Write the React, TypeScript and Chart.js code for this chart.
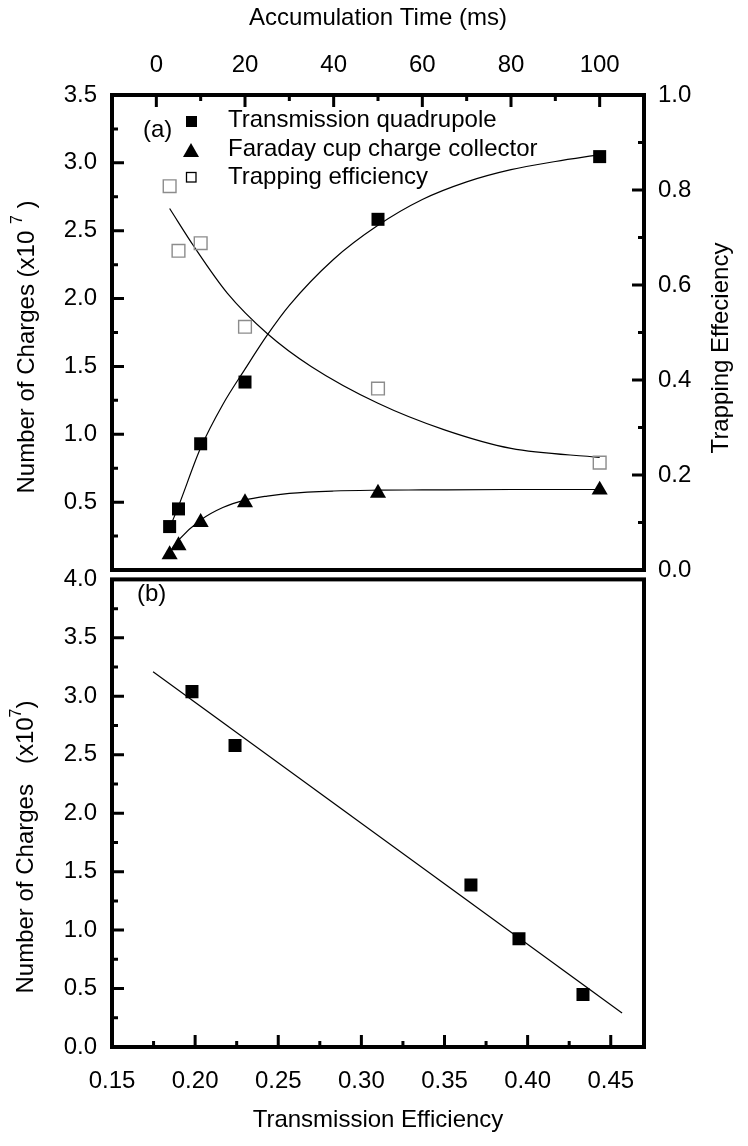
import React, { useEffect, useRef } from "react";
import { Chart, registerables } from "chart.js";

Chart.register(...registerables);

const FONT = '"Liberation Sans", Arial, Helvetica, sans-serif';

// ---------- Panel (a): versus accumulation time ----------
const TIME_MS = [3, 5, 10, 20, 50, 100];
const QUAD_CHARGES = [0.32, 0.45, 0.93, 1.385, 2.584, 3.046];
const FARADAY_CHARGES = [0.114, 0.18, 0.351, 0.497, 0.567, 0.59];
const TRAP_EFFICIENCY = [0.808, 0.672, 0.688, 0.512, 0.382, 0.226];

// fitted curves
const QUAD_FIT_TIME = [3.5, 5, 10, 15, 20, 25, 30, 40, 50, 60, 70, 80, 90, 100];
const QUAD_FIT_CHARGES = [0.35, 0.47, 0.9, 1.22, 1.48, 1.73, 1.95, 2.29, 2.54, 2.73, 2.86, 2.95, 3.01, 3.06];
const FARADAY_FIT_TIME = [3.5, 5, 10, 15, 20, 25, 30, 40, 50, 60, 80, 100];
const FARADAY_FIT_CHARGES = [0.155, 0.22, 0.368, 0.46, 0.515, 0.545, 0.565, 0.582, 0.588, 0.59, 0.593, 0.593];
const TRAP_FIT_TIME = [3, 8.5, 16, 25, 35, 50, 65, 80, 100];
const TRAP_FIT_EFFICIENCY = [0.761, 0.681, 0.583, 0.498, 0.428, 0.351, 0.295, 0.256, 0.237];

const TIME_TICKS = [0, 20, 40, 60, 80, 100];
const TIME_MINOR = [10, 30, 50, 70, 90];
const CHARGE_A_TICKS = [0.5, 1.0, 1.5, 2.0, 2.5, 3.0, 3.5];
const CHARGE_A_MINOR = [0.25, 0.75, 1.25, 1.75, 2.25, 2.75, 3.25];
const TRAP_TICKS = [0.0, 0.2, 0.4, 0.6, 0.8, 1.0];
const TRAP_MINOR = [0.1, 0.3, 0.5, 0.7, 0.9];

const LEGEND_LABELS = ["Transmission quadrupole", "Faraday cup charge collector", "Trapping efficiency"];

// ---------- Panel (b): versus transmission efficiency ----------
const TRANS_EFFICIENCY = [0.1981, 0.224, 0.3659, 0.3948, 0.4333];
const B_CHARGES = [3.04, 2.58, 1.385, 0.926, 0.45];
const LINEAR_FIT_EFF = [0.1747, 0.4568];
const LINEAR_FIT_CHARGES = [3.21, 0.29];

const EFF_TICKS = [0.15, 0.2, 0.25, 0.3, 0.35, 0.4, 0.45];
const EFF_MINOR = [0.175, 0.225, 0.275, 0.325, 0.375, 0.425];
const CHARGE_B_TICKS = [0.0, 0.5, 1.0, 1.5, 2.0, 2.5, 3.0, 3.5, 4.0];
const CHARGE_B_MINOR = [0.25, 0.75, 1.25, 1.75, 2.25, 2.75, 3.25, 3.75];

const pts = (xs: number[], ys: number[]) => xs.map((x, i) => ({ x, y: ys[i] }));

const MAJOR_LEN = 12;
const MINOR_LEN = 6;

function tickMarks(ctx: CanvasRenderingContext2D, scale: any, values: number[], len: number, side: string, area: any) {
  ctx.beginPath();
  for (const v of values) {
    const p = scale.getPixelForValue(v);
    if (side === "top") { ctx.moveTo(p, area.top); ctx.lineTo(p, area.top + len); }
    if (side === "bottom") { ctx.moveTo(p, area.bottom); ctx.lineTo(p, area.bottom - len); }
    if (side === "left") { ctx.moveTo(area.left, p); ctx.lineTo(area.left + len, p); }
    if (side === "right") { ctx.moveTo(area.right, p); ctx.lineTo(area.right - len, p); }
  }
  ctx.stroke();
}

type Part = { text: string; sup?: boolean };
function rotatedTitle(ctx: CanvasRenderingContext2D, cx: number, cy: number, parts: Part[]) {
  const main = `24px ${FONT}`;
  const small = `16px ${FONT}`;
  ctx.save();
  ctx.translate(cx, cy);
  ctx.rotate(-Math.PI / 2);
  ctx.fillStyle = "#000";
  ctx.textBaseline = "middle";
  ctx.textAlign = "left";
  let total = 0;
  for (const p of parts) { ctx.font = p.sup ? small : main; total += ctx.measureText(p.text).width; }
  let x = -total / 2;
  for (const p of parts) {
    ctx.font = p.sup ? small : main;
    ctx.fillText(p.text, x, p.sup ? -9 : 0);
    x += ctx.measureText(p.text).width;
  }
  ctx.restore();
}

const frameA = {
  id: "frameA",
  afterDraw(chart: any) {
    const { ctx, chartArea: a, scales } = chart;
    ctx.save();
    ctx.strokeStyle = "#000";
    ctx.lineWidth = 4;
    ctx.strokeRect(a.left, a.top, a.right - a.left, a.bottom - a.top);
    ctx.lineWidth = 3;
    ctx.lineCap = "butt";
    tickMarks(ctx, scales.xTime, TIME_TICKS, MAJOR_LEN, "top", a);
    tickMarks(ctx, scales.xTime, TIME_MINOR, MINOR_LEN, "top", a);
    tickMarks(ctx, scales.yCharge, CHARGE_A_TICKS, MAJOR_LEN, "left", a);
    tickMarks(ctx, scales.yCharge, CHARGE_A_MINOR, MINOR_LEN, "left", a);
    tickMarks(ctx, scales.yTrap, TRAP_TICKS, MAJOR_LEN, "right", a);
    tickMarks(ctx, scales.yTrap, TRAP_MINOR, MINOR_LEN, "right", a);

    // legend
    ctx.fillStyle = "#000";
    ctx.fillRect(186, 116, 11, 11);
    ctx.beginPath();
    ctx.moveTo(191, 143);
    ctx.lineTo(199, 157);
    ctx.lineTo(183, 157);
    ctx.closePath();
    ctx.fill();
    ctx.lineWidth = 1.3;
    ctx.strokeRect(186.5, 172.5, 9.5, 9.5);
    ctx.font = `24px ${FONT}`;
    ctx.textAlign = "left";
    ctx.textBaseline = "alphabetic";
    ctx.fillText(LEGEND_LABELS[0], 228, 127);
    ctx.fillText(LEGEND_LABELS[1], 228, 155.5);
    ctx.fillText(LEGEND_LABELS[2], 228, 184);
    ctx.fillText("(a)", 143, 137);
    ctx.restore();

    rotatedTitle(ctx, 27, 347, [{ text: "Number of Charges (x10 " }, { text: "7", sup: true }, { text: " )" }]);
    rotatedTitle(ctx, 721, 348, [{ text: "Trapping Effeciency" }]);
  },
};

const frameB = {
  id: "frameB",
  afterDraw(chart: any) {
    const { ctx, chartArea: a, scales } = chart;
    ctx.save();
    ctx.strokeStyle = "#000";
    ctx.lineWidth = 4;
    ctx.strokeRect(a.left, a.top, a.right - a.left, a.bottom - a.top);
    ctx.lineWidth = 3;
    tickMarks(ctx, scales.xEff, EFF_TICKS, MAJOR_LEN, "bottom", a);
    tickMarks(ctx, scales.xEff, EFF_MINOR, MINOR_LEN, "bottom", a);
    tickMarks(ctx, scales.yChargeB, CHARGE_B_TICKS, MAJOR_LEN, "left", a);
    tickMarks(ctx, scales.yChargeB, CHARGE_B_MINOR, MINOR_LEN, "left", a);
    ctx.fillStyle = "#000";
    ctx.font = `24px ${FONT}`;
    ctx.textAlign = "left";
    ctx.textBaseline = "alphabetic";
    ctx.fillText("(b)", 137, 51);
    ctx.restore();
    rotatedTitle(ctx, 26, 297, [{ text: "Number of Charges   (x10" }, { text: "7", sup: true }, { text: ")" }]);
  },
};

const tickFont = { family: FONT, size: 24 };
const setTicks = (vals: number[]) => (scale: any) => {
  scale.ticks = vals.map((v) => ({ value: v }));
};
const plainAxis = { grid: { display: false, drawTicks: false }, border: { display: false } };

export default function App() {
  const refA = useRef<HTMLCanvasElement | null>(null);
  const refB = useRef<HTMLCanvasElement | null>(null);

  useEffect(() => {
    Chart.defaults.font.family = FONT;
    Chart.defaults.color = "#000";

    const chartA = new Chart(refA.current as HTMLCanvasElement, {
      type: "scatter",
      data: {
        datasets: [
          {
            label: LEGEND_LABELS[0],
            data: pts(TIME_MS, QUAD_CHARGES),
            xAxisID: "xTime",
            yAxisID: "yCharge",
            pointStyle: "rect",
            pointRadius: 9.2,
            backgroundColor: "#000",
            borderColor: "#000",
            borderWidth: 0,
          },
          {
            label: LEGEND_LABELS[1],
            data: pts(TIME_MS, FARADAY_CHARGES),
            xAxisID: "xTime",
            yAxisID: "yCharge",
            pointStyle: "triangle",
            pointRadius: 9.3,
            backgroundColor: "#000",
            borderColor: "#000",
            borderWidth: 0,
          },
          {
            label: LEGEND_LABELS[2],
            data: pts(TIME_MS, TRAP_EFFICIENCY),
            xAxisID: "xTime",
            yAxisID: "yTrap",
            pointStyle: "rect",
            pointRadius: 9,
            backgroundColor: "rgba(0,0,0,0)",
            borderColor: "#8c8c8c",
            borderWidth: 1.4,
          },
          {
            label: "quad fit",
            data: pts(QUAD_FIT_TIME, QUAD_FIT_CHARGES),
            xAxisID: "xTime",
            yAxisID: "yCharge",
            showLine: true,
            pointRadius: 0,
            borderColor: "#000",
            borderWidth: 1.2,
            cubicInterpolationMode: "monotone",
          },
          {
            label: "faraday fit",
            data: pts(FARADAY_FIT_TIME, FARADAY_FIT_CHARGES),
            xAxisID: "xTime",
            yAxisID: "yCharge",
            showLine: true,
            pointRadius: 0,
            borderColor: "#000",
            borderWidth: 1.2,
            cubicInterpolationMode: "monotone",
          },
          {
            label: "trap fit",
            data: pts(TRAP_FIT_TIME, TRAP_FIT_EFFICIENCY),
            xAxisID: "xTime",
            yAxisID: "yTrap",
            showLine: true,
            pointRadius: 0,
            borderColor: "#000",
            borderWidth: 1.2,
            cubicInterpolationMode: "monotone",
          },
        ],
      } as any,
      options: {
        responsive: false,
        animation: false,
        layout: { padding: { top: 0, left: 0, right: 0, bottom: 30 } },
        plugins: { legend: { display: false }, tooltip: { enabled: false } },
        scales: {
          xTime: {
            type: "linear",
            position: "top",
            min: -10,
            max: 110,
            afterBuildTicks: setTicks(TIME_TICKS),
            afterFit: (s: any) => { s.height = 95; },
            ticks: { font: tickFont, padding: 15, color: "#000", callback: (v: any) => String(v) },
            title: { display: true, text: "Accumulation Time (ms)", font: { family: FONT, size: 24 }, color: "#000", padding: { top: 4, bottom: 0 } },
            ...plainAxis,
          },
          yCharge: {
            type: "linear",
            position: "left",
            min: 0,
            max: 3.5,
            afterBuildTicks: setTicks(CHARGE_A_TICKS),
            afterFit: (s: any) => { s.width = 112; },
            ticks: { font: tickFont, padding: 15, color: "#000", callback: (v: any) => Number(v).toFixed(1) },
            ...plainAxis,
          },
          yTrap: {
            type: "linear",
            position: "right",
            min: 0,
            max: 1,
            afterBuildTicks: setTicks(TRAP_TICKS),
            afterFit: (s: any) => { s.width = 104; },
            ticks: { font: tickFont, padding: 14, color: "#000", callback: (v: any) => Number(v).toFixed(1) },
            ...plainAxis,
          },
        },
      } as any,
      plugins: [frameA],
    });

    const chartB = new Chart(refB.current as HTMLCanvasElement, {
      type: "scatter",
      data: {
        datasets: [
          {
            label: "Number of charges",
            data: pts(TRANS_EFFICIENCY, B_CHARGES),
            xAxisID: "xEff",
            yAxisID: "yChargeB",
            pointStyle: "rect",
            pointRadius: 9.2,
            backgroundColor: "#000",
            borderColor: "#000",
            borderWidth: 0,
          },
          {
            label: "linear fit",
            data: pts(LINEAR_FIT_EFF, LINEAR_FIT_CHARGES),
            xAxisID: "xEff",
            yAxisID: "yChargeB",
            showLine: true,
            pointRadius: 0,
            borderColor: "#000",
            borderWidth: 1.2,
          },
        ],
      } as any,
      options: {
        responsive: false,
        animation: false,
        layout: { padding: { top: 20, left: 0, right: 104, bottom: 0 } },
        plugins: { legend: { display: false }, tooltip: { enabled: false } },
        scales: {
          xEff: {
            type: "linear",
            position: "bottom",
            min: 0.15,
            max: 0.47,
            afterBuildTicks: setTicks(EFF_TICKS),
            afterFit: (s: any) => { s.height = 99; },
            ticks: { font: tickFont, padding: 20, color: "#000", callback: (v: any) => Number(v).toFixed(2) },
            title: { display: true, text: "Transmission Efficiency", font: { family: FONT, size: 24 }, color: "#000", padding: { top: 0, bottom: 11 } },
            ...plainAxis,
          },
          yChargeB: {
            type: "linear",
            position: "left",
            min: 0,
            max: 4,
            afterBuildTicks: setTicks(CHARGE_B_TICKS),
            afterFit: (s: any) => { s.width = 112; },
            ticks: { font: tickFont, padding: 15, color: "#000", callback: (v: any) => Number(v).toFixed(1) },
            ...plainAxis,
          },
        },
      } as any,
      plugins: [frameB],
    });

    return () => {
      chartA.destroy();
      chartB.destroy();
    };
  }, []);

  return (
    <div style={{ position: "absolute", left: 0, top: 0, width: 748, height: 1146, background: "#fff" }}>
      <canvas ref={refA} width={748} height={600} style={{ position: "absolute", left: 0, top: 0, display: "block" }} />
      <canvas ref={refB} width={748} height={596} style={{ position: "absolute", left: 0, top: 550, display: "block" }} />
    </div>
  );
}
